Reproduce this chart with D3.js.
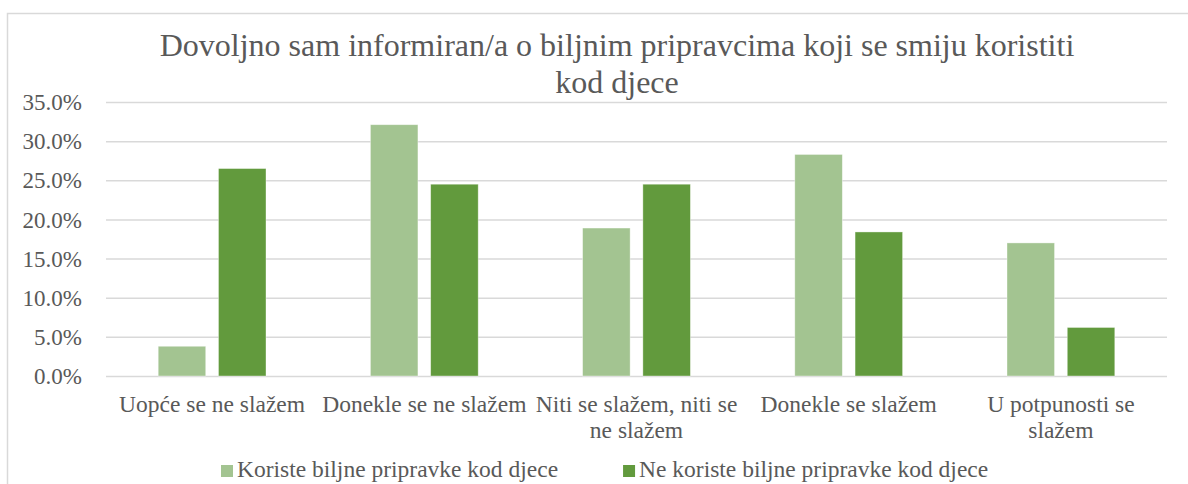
<!DOCTYPE html>
<html>
<head>
<meta charset="utf-8">
<script src="https://cdn.jsdelivr.net/npm/d3@7"></script>
</head>
<body style="margin:0; background:#fff">
<svg id="chart" width="1188" height="484" style="display:block"></svg>
<script>
// Data
const categories = [
    'Uopće se ne slažem',
    'Donekle se ne slažem',
    'Niti se slažem, niti se\nne slažem',
    'Donekle se slažem',
    'U potpunosti se\nslažem',
];
const seriesNames = ['Koriste biljne pripravke kod djece', 'Ne koriste biljne pripravke kod djece'];
const koriste = [3.8, 32.1, 18.9, 28.3, 17.0];
const neKoriste = [26.5, 24.5, 24.5, 18.4, 6.2];
const yTicks = [0, 5, 10, 15, 20, 25, 30, 35];
const titleLines = ['Dovoljno sam informiran/a o biljnim pripravcima koji se smiju koristiti', 'kod djece'];

const colours = ['#a3c491', '#629a3d'];
const textColour = '#595959';
const gridColour = '#d9d9d9';
const fontFamily = '"Liberation Serif", "Times New Roman", serif';

const svg = d3.select('#chart');
const width = 1188;
const height = 484;
const plotLeft = 106;
const plotRight = 1167;
const plotTop = 102;
const plotBottom = 376;

// Outer frame (only top and left edges are visible)
svg.append('path')
    .attr('d', `M7.5,${height} V13.5 H${width}`)
    .attr('fill', 'none')
    .attr('stroke', gridColour)
    .attr('stroke-width', 1.5);

// Title
const title = svg.append('text')
    .attr('text-anchor', 'middle')
    .attr('fill', textColour)
    .style('font-family', fontFamily)
    .style('font-size', '32px');
title.selectAll('tspan')
    .data(titleLines)
    .enter()
    .append('tspan')
    .attr('x', 617)
    .attr('y', (d, i) => 56 + i * 37)
    .text(d => d);

// Scales (absolute page coordinates)
const x = d3.scaleBand()
    .domain(categories)
    .range([plotLeft, plotRight]);

const y = d3.scaleLinear()
    .domain([0, 35])
    .range([plotBottom, plotTop]);

// Gridlines + y axis
const yAxis = d3.axisLeft(y)
    .tickValues(yTicks)
    .tickSize(-(plotRight - plotLeft))
    .tickPadding(24)
    .tickFormat(d => d3.format('.1f')(d) + '%');

const yAxisContainer = svg.append('g')
    .attr('transform', `translate(${plotLeft}, 0)`)
    .call(yAxis);
yAxisContainer.select('.domain').remove();
yAxisContainer.selectAll('.tick line')
    .attr('stroke', gridColour)
    .attr('stroke-width', 1.5);
yAxisContainer.selectAll('.tick text')
    .attr('fill', textColour)
    .attr('dy', '0.33em')
    .style('font-family', fontFamily)
    .style('font-size', '23px');

// Bars
const barW = x.bandwidth() * 0.224;
const gap = x.bandwidth() * 0.06;
const series = [koriste, neKoriste];

series.forEach((values, s) => {
    svg.append('g')
        .selectAll('rect')
        .data(values)
        .enter()
        .append('rect')
        .attr('x', (d, i) => x(categories[i]) + x.bandwidth() / 2 + (s === 0 ? -gap / 2 - barW : gap / 2))
        .attr('y', d => y(d))
        .attr('width', barW)
        .attr('height', d => y(0) - y(d))
        .attr('fill', colours[s])
        .attr('stroke', '#ffffff')
        .attr('stroke-opacity', 0.5)
        .attr('stroke-width', 0.75);
});

// Category labels
const xLabels = svg.append('g')
    .selectAll('text')
    .data(categories)
    .enter()
    .append('text')
    .attr('text-anchor', 'middle')
    .attr('fill', textColour)
    .style('font-family', fontFamily)
    .style('font-size', '23.5px');

xLabels.selectAll('tspan')
    .data(d => d.split('\n'))
    .enter()
    .append('tspan')
    .attr('x', function () {
        const cat = d3.select(this.parentNode).datum();
        return x(cat) + x.bandwidth() / 2;
    })
    .attr('y', (d, i) => plotBottom + 36 + i * 26)
    .text(d => d);

// Legend
const legendY = 477;
let legendX = 221;
seriesNames.forEach((name, i) => {
    svg.append('rect')
        .attr('x', legendX)
        .attr('y', legendY - 12)
        .attr('width', 12)
        .attr('height', 12)
        .attr('fill', colours[i]);
    const label = svg.append('text')
        .attr('x', legendX + 16)
        .attr('y', legendY)
        .attr('fill', textColour)
        .style('font-family', fontFamily)
        .style('font-size', '23.5px')
        .text(name);
    legendX += 16 + label.node().getComputedTextLength() + 65;
});
</script>
</body>
</html>
